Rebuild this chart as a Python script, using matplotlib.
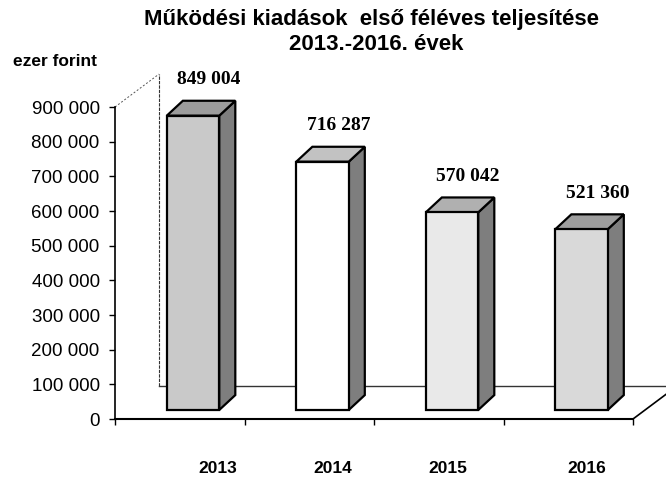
import matplotlib
matplotlib.use('Agg')
import matplotlib.pyplot as plt
from matplotlib.patches import Polygon
from matplotlib.ticker import FuncFormatter, FixedLocator

# data
years = ['2013', '2014', '2015', '2016']
values = [849004, 716287, 570042, 521360]
value_labels = ['849 004', '716 287', '570 042', '521 360']
y_ticks = list(range(0, 900001, 100000))

# look of each bar (front, top, side)
front_colors = ['#c9c9c9', '#ffffff', '#e9e9e9', '#d9d9d9']
top_colors = ['#9c9c9c', '#c2c2c2', '#b0b0b0', '#9e9e9e']
side_color = '#7e7e7e'

plt.rcParams['font.family'] = ['Liberation Sans', 'DejaVu Sans']

fig = plt.figure(figsize=(6.66, 4.78), dpi=100)
ax = fig.add_axes([115 / 666, 59 / 478, 518 / 666, 312 / 478])
ax.set_xlim(0, 4)
ax.set_ylim(0, 900000)

# 3d geometry (data units)
wall_dx, wall_dy = 0.34, 95000      # depth of the floor / walls
bar_dx, bar_dy = 0.124, 43000       # depth of a bar
bar_w = 0.405
bar_left = 0.40
bar_base = 26000

# walls and floor
ax.plot([wall_dx, wall_dx], [wall_dy, 900000 + wall_dy], color='#333333', lw=0.8,
        ls=(0, (3, 1)), clip_on=False, zorder=1)
ax.plot([0, wall_dx], [900000, 900000 + wall_dy], color='#555555', lw=0.7,
        ls=(0, (2, 2)), clip_on=False, zorder=1)
ax.plot([wall_dx, 4 + wall_dx], [wall_dy, wall_dy], color='#333333', lw=1.0,
        clip_on=False, zorder=1)
ax.plot([4, 4 + wall_dx], [0, wall_dy], color='black', lw=1.2, clip_on=False, zorder=1)

# bars
for i, v in enumerate(values):
    x0 = i + bar_left
    x1 = x0 + bar_w
    y0 = bar_base
    y1 = bar_base + v
    front = [(x0, y0), (x1, y0), (x1, y1), (x0, y1)]
    top = [(x0, y1), (x1, y1), (x1 + bar_dx, y1 + bar_dy), (x0 + bar_dx, y1 + bar_dy)]
    side = [(x1, y0), (x1 + bar_dx, y0 + bar_dy), (x1 + bar_dx, y1 + bar_dy), (x1, y1)]
    for pts, fc in [(side, side_color), (top, top_colors[i]), (front, front_colors[i])]:
        ax.add_patch(Polygon(pts, closed=True, facecolor=fc, edgecolor='black',
                             lw=1.6, zorder=3, clip_on=False, joinstyle='miter'))
    ax.text(x0 + bar_w / 2 + bar_dx, y1 + bar_dy + 60000, value_labels[i],
            family='Liberation Serif', fontsize=14, fontweight='bold',
            ha='center', va='center', zorder=5, clip_on=False)

# axes
for s in ['top', 'right']:
    ax.spines[s].set_visible(False)
ax.spines['left'].set_linewidth(1.2)
ax.spines['bottom'].set_linewidth(1.5)
ax.spines['left'].set_zorder(2)
ax.spines['bottom'].set_zorder(2)

ax.set_yticks(y_ticks)
ax.yaxis.set_major_formatter(FuncFormatter(lambda v, p: f'{int(v):,}'.replace(',', ' ')))
ax.tick_params(axis='y', direction='out', length=4, width=1, pad=7, labelsize=13.5)

# year labels sit a little off the category centres, as in the original
label_pos = [0.79, 1.685, 2.57, 3.64]
ax.xaxis.set_major_locator(FixedLocator(label_pos))
ax.set_xticklabels(years, fontsize=12.5, fontweight='bold')
ax.tick_params(axis='x', which='major', length=0, pad=30)
ax.xaxis.set_minor_locator(FixedLocator(list(range(0, 5))))
ax.tick_params(axis='x', which='minor', direction='out', length=4, width=1)

fig.text(371 / 666, 1 - 20 / 478, 'Működési kiadások  első féléves teljesítése',
         ha='center', va='center', fontsize=16, fontweight='bold')
fig.text(376 / 666, 1 - 44 / 478, '2013.-2016. évek',
         ha='center', va='center', fontsize=16, fontweight='bold')
fig.text(13 / 666, 1 - 61 / 478, 'ezer forint', ha='left', va='center',
         fontsize=12.5, fontweight='bold')

fig.savefig('out.png', dpi=100)
